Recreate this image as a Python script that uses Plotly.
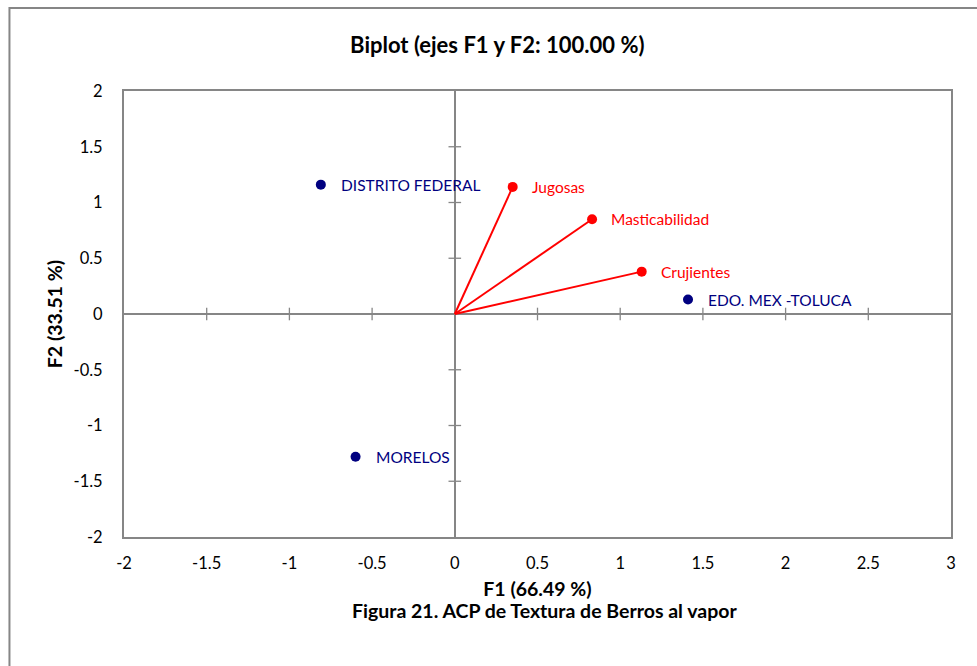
import plotly.graph_objects as go

# Observations
obs_names = ["DISTRITO FEDERAL", "MORELOS", "EDO. MEX -TOLUCA"]
obs_f1 = [-0.81, -0.60, 1.41]
obs_f2 = [1.16, -1.28, 0.13]

# Variables
var_names = ["Jugosas", "Masticabilidad", "Crujientes"]
var_f1 = [0.35, 0.83, 1.13]
var_f2 = [1.14, 0.85, 0.38]

x_ticks = [-2, -1.5, -1, -0.5, 0, 0.5, 1, 1.5, 2, 2.5, 3]
y_ticks = [-2, -1.5, -1, -0.5, 0, 0.5, 1, 1.5, 2]

FONT = "Lato, Carlito, Calibri, sans-serif"
GRAY = "#868686"
NAVY = "#000080"
RED = "#FF0000"

fig = go.Figure()

# tick marks on the zero axes
fig.add_trace(go.Scatter(
    x=[t for t in x_ticks if t not in (-2, 0, 3)], y=[0] * 8,
    mode="markers", marker=dict(symbol="line-ns", size=9, line=dict(width=1.3, color=GRAY)),
    hoverinfo="skip", showlegend=False))
fig.add_trace(go.Scatter(
    x=[0] * 6, y=[t for t in y_ticks if t not in (-2, 0, 2)],
    mode="markers", marker=dict(symbol="line-ew", size=9, line=dict(width=1.3, color=GRAY)),
    hoverinfo="skip", showlegend=False))

# variable vectors
vx, vy = [], []
for a, b in zip(var_f1, var_f2):
    vx += [0, a, None]
    vy += [0, b, None]
fig.add_trace(go.Scatter(x=vx, y=vy, mode="lines", line=dict(color=RED, width=2),
                         hoverinfo="skip", showlegend=False))
fig.add_trace(go.Scatter(x=var_f1, y=var_f2, mode="markers",
                         marker=dict(color=RED, size=10), showlegend=False))

# observations
fig.add_trace(go.Scatter(x=obs_f1, y=obs_f2, mode="markers",
                         marker=dict(color=NAVY, size=10), showlegend=False))

for n, a, b in zip(obs_names, obs_f1, obs_f2):
    fig.add_annotation(x=a, y=b, text=n, showarrow=False, xanchor="left", xshift=18,
                       font=dict(family=FONT, size=15.5, color=NAVY))
for n, a, b in zip(var_names, var_f1, var_f2):
    fig.add_annotation(x=a, y=b, text=n, showarrow=False, xanchor="left", xshift=17,
                       font=dict(family=FONT, size=15.5, color=RED))

fig.add_annotation(xref="paper", yref="paper", x=0.509, y=-0.165, yanchor="middle",
                   text="<b>Figura 21. ACP de Textura de Berros al vapor</b>", showarrow=False,
                   font=dict(family=FONT, size=19.5, color="#000000"))

TICKFONT = dict(family=FONT, size=16.5, color="#000000")

fig.update_layout(
    width=977, height=666,
    margin=dict(l=124, r=26, t=91, b=129),
    paper_bgcolor="white", plot_bgcolor="white",
    font=dict(family=FONT, size=16, color="#000000"),
    title=dict(text="<b>Biplot (ejes F1 y F2: 100.00 %)</b>", x=0.509, xanchor="center",
               y=0.932, yanchor="middle", font=dict(family=FONT, size=22, color="#000000")),
    xaxis=dict(range=[-2, 3], tickvals=x_ticks, ticktext=[f"{t:g}" for t in x_ticks],
               tickfont=TICKFONT,
               showgrid=False, zeroline=True, zerolinecolor=GRAY, zerolinewidth=1.5,
               showline=True, linecolor=GRAY, linewidth=2, mirror=True, ticks="",
               ticklabelstandoff=10,
               title=dict(text="<b>F1 (66.49 %)</b>", font=dict(family=FONT, size=19.5), standoff=11)),
    yaxis=dict(range=[-2, 2], tickvals=y_ticks, ticktext=[f"{t:g}" for t in y_ticks],
               tickfont=TICKFONT,
               showgrid=False, zeroline=True, zerolinecolor=GRAY, zerolinewidth=1.5,
               showline=True, linecolor=GRAY, linewidth=2, mirror=True, ticks="",
               ticklabelstandoff=16,
               title=dict(text="<b>F2 (33.51 %)</b>", font=dict(family=FONT, size=19.5), standoff=6)),
    shapes=[dict(type="rect", xref="paper", yref="paper", x0=-0.1385, x1=1.2, y0=-0.5, y1=1.186,
                 line=dict(color=GRAY, width=2), fillcolor="rgba(0,0,0,0)", layer="below")],
)

fig.write_html("out.html")
